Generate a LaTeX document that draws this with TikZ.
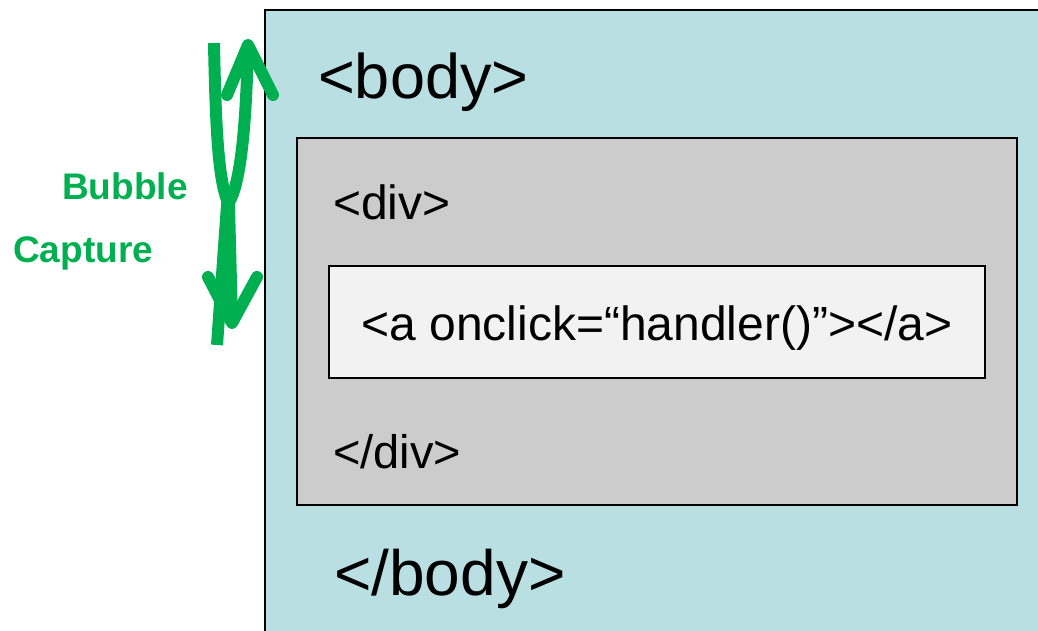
\documentclass[tikz,border=0pt]{standalone}
\usepackage{fontspec}
\setmainfont{Liberation Sans}
\usetikzlibrary{calc}
\usetikzlibrary{positioning}
\definecolor{bodyteal}{RGB}{185,223,227}
\definecolor{divgray}{RGB}{204,204,204}
\definecolor{linkgray}{RGB}{242,242,242}
\definecolor{flowgreen}{RGB}{0,176,80}
\tikzset{
  every picture/.style={x=1pt, y=-1pt},
  tag/.style={anchor=base west, inner sep=0pt, text=black}}

\begin{document}
\begin{tikzpicture}[
    box/.style={draw=black, line width=1.6pt, inner sep=0pt},
    flow/.style={draw=flowgreen, line width=12pt},
    barb/.style={draw=flowgreen, line width=12pt, line cap=round, line join=round},
    phase/.style={anchor=base west, inner sep=0pt, text=flowgreen, font=\fontsize{37}{40}\selectfont\bfseries}]

    \useasboundingbox (0,0) rectangle (1038,631);

    % body
    \coordinate (BT) at (265,10);
    \fill[bodyteal] (BT) rectangle (1040,633);
    \draw[line width=1.6pt] (265,633) -- (BT) -- (1040,10);

    \node[tag, font=\fontsize{63}{70}\selectfont] (BO) at (318,99) {<body>};
    \node[tag, font=\fontsize{64}{70}\selectfont] (BC) at (334,595) {</body>};

    % div and link
    \node[box, fill=divgray, minimum width=720, minimum height=367] (DIV) at (657,321.5) {};
    \node[tag, font=\fontsize{48}{50}\selectfont] (DO) at (333,219) {<div>};
    \node[tag, font=\fontsize{47}{50}\selectfont] (DC) at (333,468) {</div>};

    \node[box, fill=linkgray, minimum width=656, minimum height=112] (A) at (657,322) {};
    \node[font=\fontsize{48}{50}\selectfont, inner sep=0pt, anchor=base] (AT) at ($(A.center)+(0,18)$) {<a onclick=“handler()”></a>};

    % event flow
    \node[phase] (BUB) at (62,200) {Bubble};
    \node[phase] (CAP) at (13,262) {Capture};

    \coordinate (CS) at (214,43);
    \coordinate (CX) at (229,205);
    \coordinate (CT) at (232,323);
    \coordinate (US) at (217,345);
    \coordinate (UX) at (227,205);
    \coordinate (UT) at (248,45);

    \draw[flow] (CS) .. controls (216,150) and (220,185) .. (CX) -- (CT);
    \draw[flow] (US) -- (UX) .. controls (240,190) and (246,130) .. (UT);
    \draw[barb] (208,277) -- (CT) -- (257,277);
    \draw[barb] (227,95) -- (UT) -- (273,95);
  \end{tikzpicture}
\end{document}
